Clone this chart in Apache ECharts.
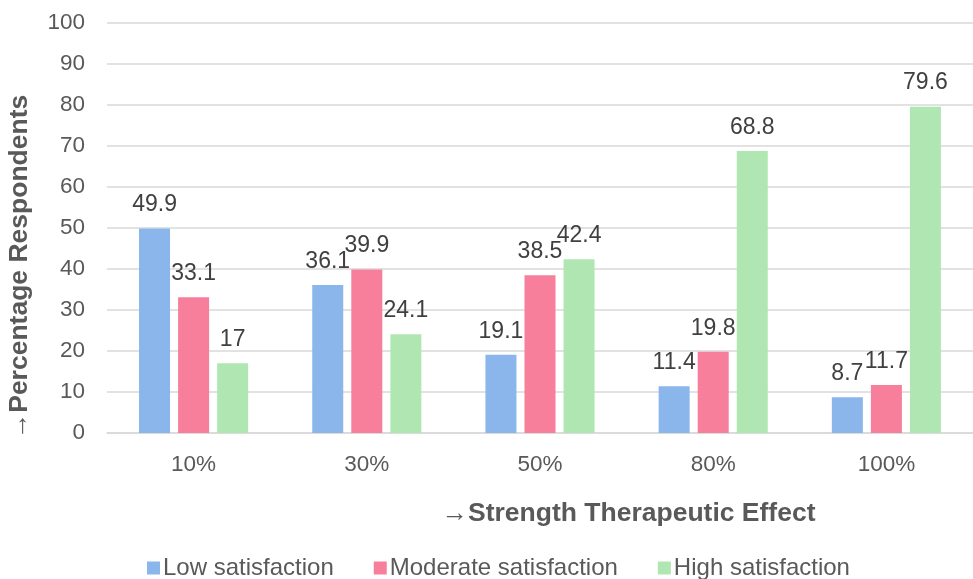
<!DOCTYPE html>
<html>
<head>
<meta charset="utf-8">
<script src="https://cdn.jsdelivr.net/npm/echarts@6/dist/echarts.min.js"></script>
<style>html,body{margin:0;padding:0;background:#fff;}#c{width:973px;height:579px;}</style>
</head>
<body>
<div id="c"></div>
<script>
var categories = ['10%', '30%', '50%', '80%', '100%'];
var lowSatisfaction = [49.9, 36.1, 19.1, 11.4, 8.7];
var moderateSatisfaction = [33.1, 39.9, 38.5, 19.8, 11.7];
var highSatisfaction = [17, 24.1, 42.4, 68.8, 79.6];
var seriesNames = ['Low satisfaction', 'Moderate satisfaction', 'High satisfaction'];
var yTicks = { min: 0, max: 100, interval: 10 };

var FONT = '"Liberation Sans", Arial, sans-serif';
var chart = echarts.init(document.getElementById('c'), null, { renderer: 'canvas' });

function mkSeries(name, data, color) {
  return {
    name: name,
    type: 'bar',
    data: data,
    barWidth: 31,
    barGap: '26%',
    itemStyle: { color: color },
    label: {
      show: true,
      position: 'top',
      distance: 12,
      color: '#404040',
      fontSize: 23,
      fontFamily: FONT
    }
  };
}

chart.setOption({
  animation: false,
  textStyle: { fontFamily: FONT },
  grid: { left: 107, top: 23, width: 877.5, height: 410, containLabel: false },
  legend: {
    bottom: -6,
    left: 142,
    itemWidth: 13,
    itemHeight: 13,
    itemGap: 40,
    icon: 'rect',
    textStyle: { color: '#595959', fontSize: 24, fontFamily: FONT, padding: [0, 0, 0, -2] },
    data: seriesNames
  },
  xAxis: {
    type: 'category',
    data: categories,
    name: '\u2192Strength Therapeutic Effect',
    nameLocation: 'middle',
    nameGap: 67,
    nameTextStyle: { color: '#595959', fontSize: 26.5, fontWeight: 'bold', fontFamily: FONT, padding: [0, 0, 0, 177] },
    axisLine: { show: true, lineStyle: { color: '#d9d9d9', width: 1.5 } },
    axisTick: { show: false },
    axisLabel: { color: '#595959', fontSize: 22.5, margin: 20, fontFamily: FONT }
  },
  yAxis: {
    type: 'value',
    min: yTicks.min,
    max: yTicks.max,
    interval: yTicks.interval,
    axisLine: { show: false },
    axisTick: { show: false },
    splitLine: { lineStyle: { color: '#d9d9d9', width: 1.5 } },
    axisLabel: { color: '#595959', fontSize: 22.5, margin: 22, fontFamily: FONT }
  },
  graphic: [{
    type: 'text',
    x: 20,
    y: 267,
    rotation: Math.PI / 2,
    style: {
      text: '\u2192Percentage Respondents',
      fill: '#595959',
      font: 'bold 26.5px "Liberation Sans", Arial, sans-serif',
      textAlign: 'center',
      textVerticalAlign: 'middle'
    }
  }],
  series: [
    mkSeries(seriesNames[0], lowSatisfaction, '#8ab6eb'),
    mkSeries(seriesNames[1], moderateSatisfaction, '#f77f9b'),
    mkSeries(seriesNames[2], highSatisfaction, '#b0e6b2')
  ]
});
</script>
</body>
</html>
